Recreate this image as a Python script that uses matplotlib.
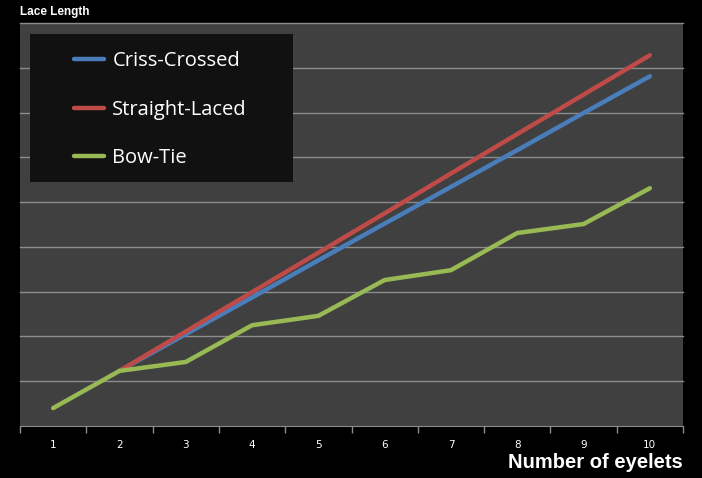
import matplotlib.pyplot as plt
import numpy as np
from matplotlib.patches import Rectangle

eyelets = [1, 2, 3, 4, 5, 6, 7, 8, 9, 10]
criss_crossed = [np.nan, 1.23, 2.05, 2.87, 3.70, 4.52, 5.34, 6.16, 6.99, 7.81]
straight_laced = [np.nan, 1.23, 2.11, 2.99, 3.87, 4.75, 5.64, 6.52, 7.40, 8.28]
bow_tie = [0.40, 1.23, 1.43, 2.25, 2.46, 3.26, 3.48, 4.31, 4.51, 5.31]

series = [
    ("Criss-Crossed", criss_crossed, "#4a7ebb"),
    ("Straight-Laced", straight_laced, "#be4b48"),
    ("Bow-Tie", bow_tie, "#98b954"),
]

W, H = 702, 478
fig = plt.figure(figsize=(W / 100, H / 100), dpi=100, facecolor="black")
ax = fig.add_axes([20 / W, 1 - 426 / H, 663 / W, 403 / H])
ax.set_facecolor("#404040")

for label, vals, color in series:
    ax.plot(eyelets, vals, color=color, linewidth=3.2, label=label,
            solid_capstyle="round", solid_joinstyle="round", zorder=3)

ax.set_xlim(0.5, 10.5)
ax.set_ylim(0, 9)
ax.set_yticks(np.arange(1, 10))
ax.yaxis.set_tick_params(length=0, labelleft=False)
ax.grid(axis="y", color="#8c8c8c", linewidth=1, clip_on=False)
ax.set_axisbelow(True)

ax.set_xticks(eyelets)
ax.set_xticklabels([str(e) for e in eyelets])
ax.set_xticks(np.arange(0.5, 11, 1), minor=True)
ax.tick_params(axis="x", which="major", length=0, colors="white",
               labelsize=7.5, pad=10)
ax.tick_params(axis="x", which="minor", length=5, color="#8c8c8c", width=1)

for side in ("top", "right", "left"):
    ax.spines[side].set_visible(False)
ax.spines["bottom"].set_color("#8c8c8c")

fig.text(20 / W, 1 - 12 / H, "Lace Length", color="white", fontsize=8.5,
         fontweight="bold", family="Liberation Sans", va="center", ha="left")
fig.text(683 / W, 1 - 463 / H, "Number of eyelets", color="white",
         fontsize=14.5, fontweight="bold", family="Liberation Sans",
         va="center", ha="right")

# legend box
fig.patches.append(Rectangle((30 / W, 1 - 182 / H), 263 / W, 148 / H,
                             transform=fig.transFigure, facecolor="#111111",
                             edgecolor="none", zorder=1))
leg = fig.legend(loc="upper left", bbox_to_anchor=(56 / W, 1 - 33 / H),
                 frameon=False, labelspacing=1.42,
                 handlelength=1.5, handletextpad=0.4,
                 prop={"family": "Open Sans", "size": 14.5})
for t in leg.get_texts():
    t.set_color("white")

fig.savefig("out.png", dpi=100, facecolor="black")
